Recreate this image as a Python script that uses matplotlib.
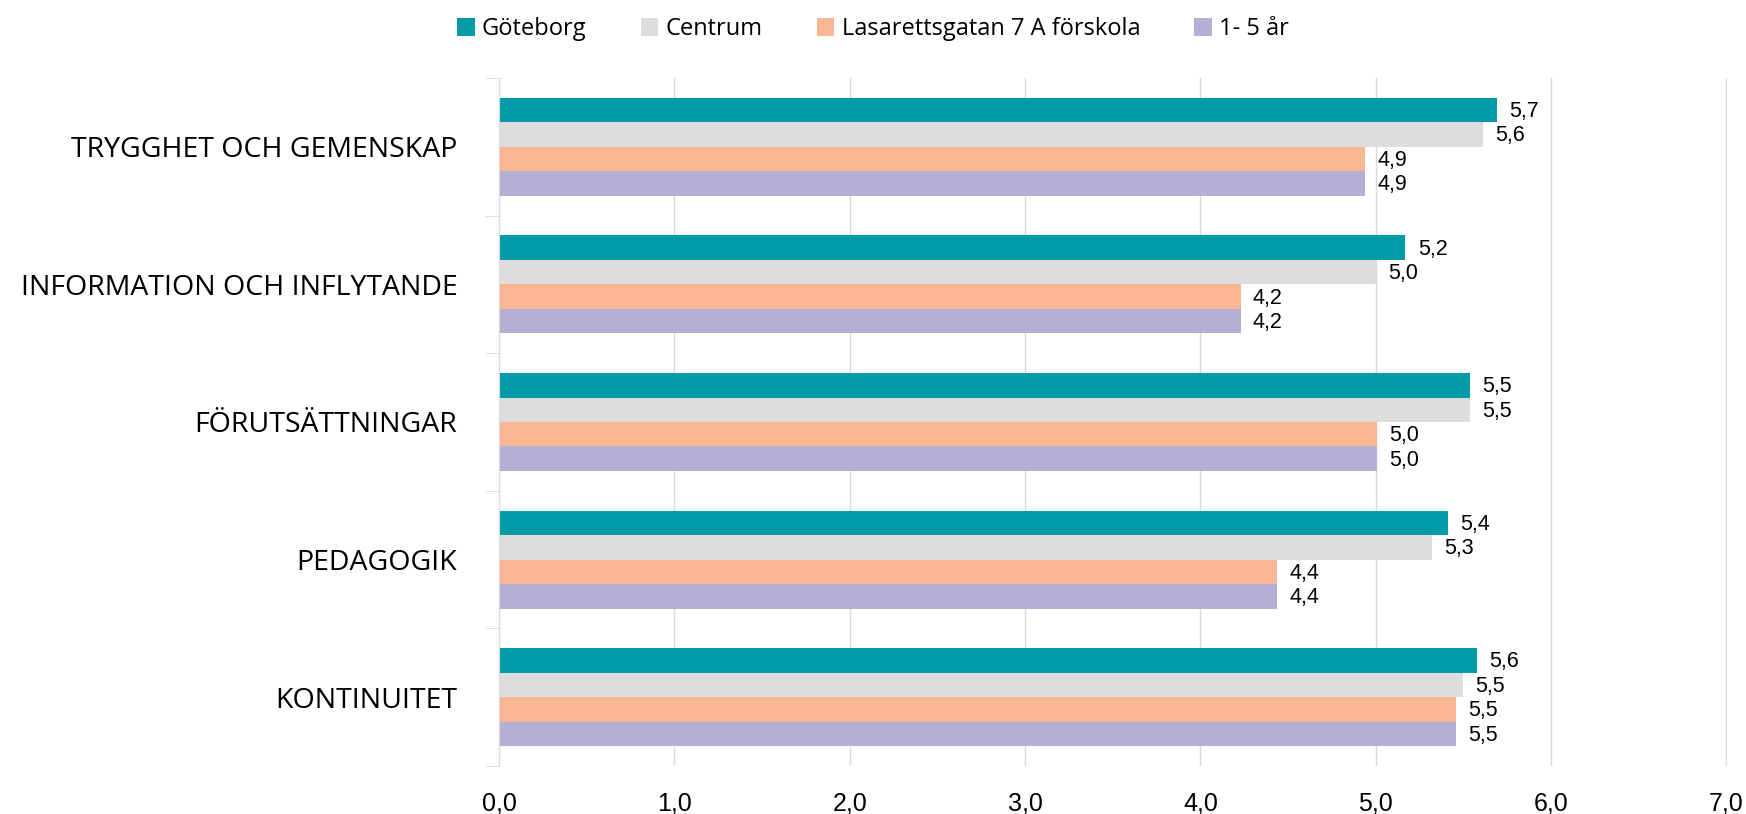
import numpy as np
import matplotlib.pyplot as plt

# Data
categories = ["TRYGGHET OCH GEMENSKAP", "INFORMATION OCH INFLYTANDE", "FÖRUTSÄTTNINGAR",
              "PEDAGOGIK", "KONTINUITET"]
series_names = ["Göteborg", "Centrum", "Lasarettsgatan 7 A förskola", "1- 5 år"]
goteborg = [5.69, 5.17, 5.54, 5.41, 5.58]
centrum = [5.61, 5.00, 5.54, 5.32, 5.50]
lasarett = [4.94, 4.23, 5.01, 4.44, 5.46]
ar_1_5 = [4.94, 4.23, 5.01, 4.44, 5.46]
x_ticks = [0, 1, 2, 3, 4, 5, 6, 7]

colors = ["#009AA8", "#DDDDDD", "#F8B693", "#B5AFD5"]
all_series = [goteborg, centrum, lasarett, ar_1_5]

fig = plt.figure(figsize=(17.46, 8.14), dpi=100)
ax = fig.add_axes([499 / 1746, 1 - 766 / 814, (1727 - 499) / 1746, (766 - 78) / 814])

n = len(categories)
y = np.arange(n)
bar_h = 0.178
for i, (vals, name, c) in enumerate(zip(all_series, series_names, colors)):
    pos = y - 1.5 * bar_h + i * bar_h
    ax.barh(pos, vals, height=bar_h, color=c, label=name)
    for p, v in zip(pos, vals):
        ax.text(v + 0.07, p + 0.01, f"{v:.1f}".replace(".", ","), va="center", ha="left",
                fontsize=15.5, family="Liberation Sans")

ax.set_xlim(0, 7.004)
ax.set_ylim(n - 0.5, -0.5)
ax.set_xticks(x_ticks)
ax.set_xticklabels([f"{t:.1f}".replace(".", ",") for t in x_ticks],
                   fontsize=18, family=["Liberation Sans Narrow", "Liberation Sans"])
ax.set_yticks(y)
ax.set_yticklabels(categories, fontsize=20.5, family="Open Sans")
ax.set_yticks(np.arange(n + 1) - 0.5, minor=True)
ax.tick_params(axis="y", which="major", length=0, pad=30)
ax.tick_params(axis="y", which="minor", length=10, color="#D9D9D9")
ax.tick_params(axis="x", length=0, pad=18)

ax.grid(axis="x", color="#D9D9D9", linewidth=1)
ax.set_axisbelow(True)
for s in ["top", "right", "bottom"]:
    ax.spines[s].set_visible(False)
ax.spines["left"].set_color("#D9D9D9")

fig.legend(loc="upper center", bbox_to_anchor=(0.5, 1.005), ncol=4, frameon=False,
           prop={"family": "Open Sans", "size": 17}, handlelength=0.75, handleheight=0.75,
           handletextpad=0.3, columnspacing=2.3)

fig.savefig("out.png", dpi=100)
